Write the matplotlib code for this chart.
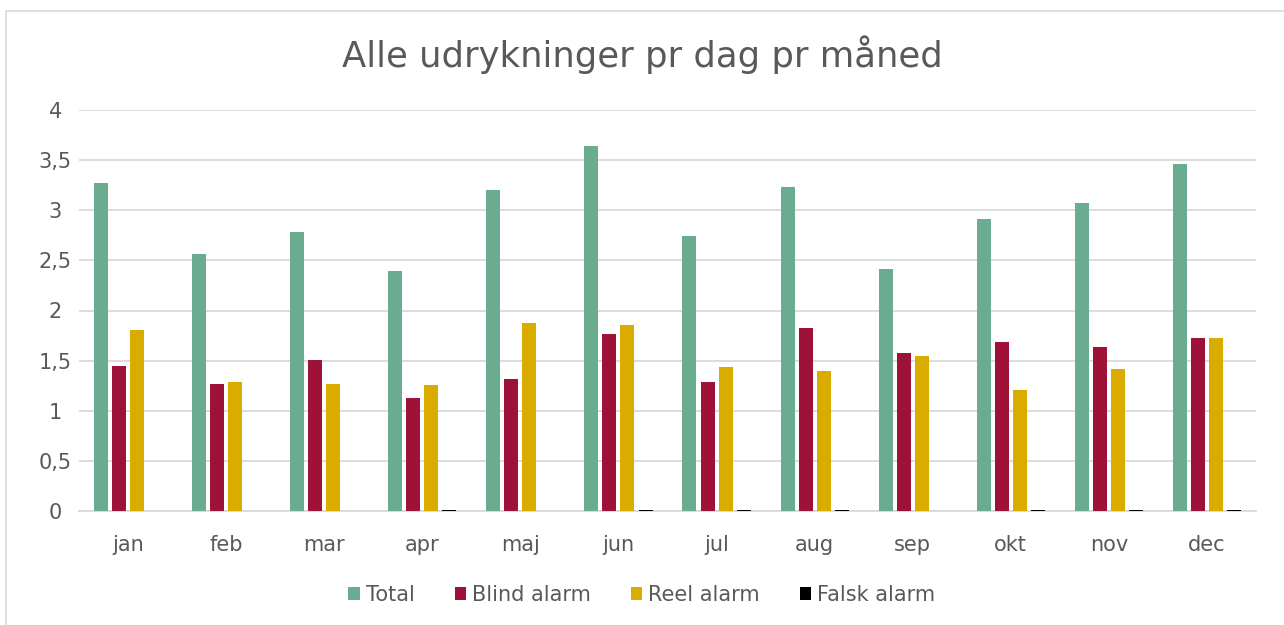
import numpy as np
import matplotlib
matplotlib.use("Agg")
import matplotlib.pyplot as plt
from matplotlib.patches import Rectangle, Patch

months = ["jan", "feb", "mar", "apr", "maj", "jun", "jul", "aug", "sep", "okt", "nov", "dec"]
total = [3.27, 2.56, 2.78, 2.39, 3.20, 3.64, 2.74, 3.23, 2.41, 2.91, 3.07, 3.46]
blind = [1.45, 1.27, 1.51, 1.13, 1.32, 1.77, 1.29, 1.83, 1.58, 1.69, 1.64, 1.73]
reel = [1.81, 1.29, 1.27, 1.26, 1.88, 1.86, 1.44, 1.40, 1.55, 1.21, 1.42, 1.73]
falsk = [0, 0, 0, 0.006, 0, 0.006, 0.006, 0.006, 0, 0.006, 0.006, 0.006]

series = ["Total", "Blind alarm", "Reel alarm", "Falsk alarm"]
colors = ["#6aac90", "#9e123a", "#daac00", "#000000"]
txt = "#595959"
grid = "#d9d9d9"

plt.rcParams["font.family"] = ["DejaVu Sans"]

W, H = 1284, 625
fig = plt.figure(figsize=(W / 100, H / 100), dpi=100)

# chart border (cut off on the right and bottom)
fig.patches.append(Rectangle((6 / W, -0.02), 1.1, 1 - 11 / H + 0.02,
                             transform=fig.transFigure, fill=False,
                             edgecolor=grid, linewidth=1.2))

ax = fig.add_axes([79 / W, (H - 511) / H, (1256 - 79) / W, (511 - 110) / H])
x = np.arange(len(months))
step = 0.184
width = 0.143
for i, (vals, c) in enumerate(zip([total, blind, reel, falsk], colors)):
    ax.bar(x + (i - 1.5) * step, vals, width, color=c, zorder=3, edgecolor="none")

ax.set_xlim(-0.5, len(months) - 0.5)
ax.set_ylim(0, 4)
ax.set_yticks(np.arange(0, 4.01, 0.5))
ax.set_yticklabels(["0", "0,5", "1", "1,5", "2", "2,5", "3", "3,5", "4"])
ax.set_xticks(x)
ax.set_xticklabels(months)
ax.tick_params(length=0, labelsize=15, colors=txt)
ax.tick_params(axis="x", pad=17)
ax.tick_params(axis="y", pad=17)
for lbl in ax.get_yticklabels():
    lbl.set_horizontalalignment("center")
ax.yaxis.grid(True, color=grid, linewidth=1.3, zorder=0)
for s in ["top", "right", "left"]:
    ax.spines[s].set_visible(False)
ax.spines["bottom"].set_color(grid)
ax.spines["bottom"].set_linewidth(1.3)

fig.text(0.5, 1 - 55 / H, "Alle udrykninger pr dag pr måned", ha="center", va="center",
         fontsize=25.5, color=txt)

handles = [Patch(facecolor=c, edgecolor="none") for c in colors]
fig.legend(handles, series, loc="center", bbox_to_anchor=(0.5, 1 - 595 / H), ncol=4,
           frameon=False, fontsize=15, labelcolor=txt, handlelength=0.55, handleheight=0.55,
           handletextpad=0.3, columnspacing=1.9)

fig.savefig("out.png", dpi=100)
